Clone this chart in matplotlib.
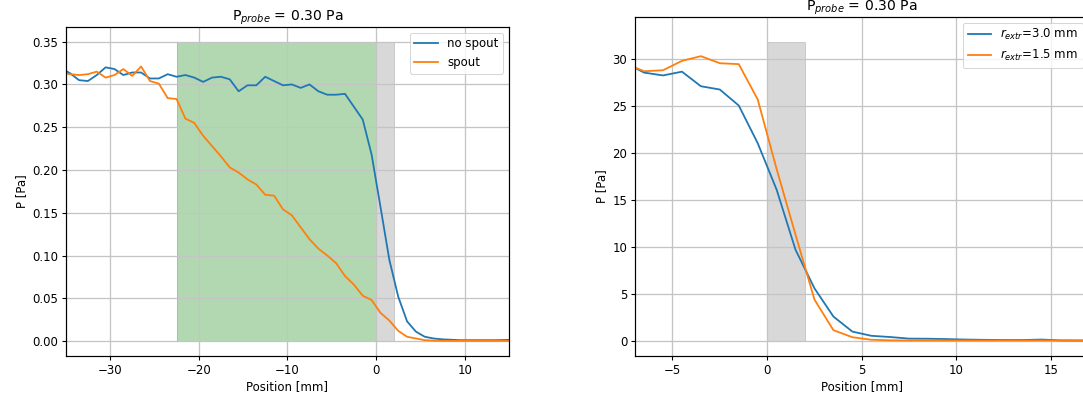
import numpy as np
import matplotlib
matplotlib.use('Agg')
import matplotlib.pyplot as plt

##### Datos
# Panel izquierdo: P_probe = 0.30 Pa, con y sin spout
pos_izq = [-35.5, -34.5, -33.5, -32.5, -31.5, -30.5, -29.5, -28.5, -27.5, -26.5,
           -25.5, -24.5, -23.5, -22.5, -21.5, -20.5, -19.5, -18.5, -17.5, -16.5,
           -15.5, -14.5, -13.5, -12.5, -11.5, -10.5, -9.5, -8.5, -7.5, -6.5,
           -5.5, -4.5, -3.5, -2.5, -1.5, -0.5, 0.5, 1.5, 2.5, 3.5,
           4.5, 5.5, 6.5, 7.5, 8.5, 9.5, 10.5, 11.5, 12.5, 13.5,
           14.5, 15.5]
p_no_spout = [0.319, 0.313, 0.305, 0.304, 0.311, 0.320, 0.318, 0.311, 0.314, 0.314,
              0.307, 0.307, 0.312, 0.309, 0.311, 0.308, 0.303, 0.308, 0.309, 0.306,
              0.292, 0.299, 0.299, 0.309, 0.304, 0.299, 0.300, 0.296, 0.300, 0.292,
              0.288, 0.288, 0.289, 0.274, 0.259, 0.218, 0.157, 0.095, 0.052, 0.023,
              0.011, 0.005, 0.003, 0.002, 0.0015, 0.001, 0.001, 0.001, 0.001, 0.001,
              0.0012, 0.0015]
p_spout = [0.314, 0.312, 0.311, 0.312, 0.315, 0.308, 0.311, 0.318, 0.310, 0.321,
           0.304, 0.301, 0.284, 0.283, 0.260, 0.255, 0.240, 0.228, 0.216, 0.203,
           0.197, 0.189, 0.183, 0.171, 0.170, 0.154, 0.147, 0.133, 0.119, 0.108,
           0.100, 0.091, 0.076, 0.066, 0.053, 0.048, 0.033, 0.024, 0.012, 0.005,
           0.003, 0.001, 0.0005, 0.0003, 0.0002, 0.0002, 0.0002, 0.0002, 0.0002, 0.0002,
           0.0002, 0.0002]

# Panel derecho: radios de extraccion
pos_der = [-7.5, -6.5, -5.5, -4.5, -3.5, -2.5, -1.5, -0.5, 0.5, 1.5,
           2.5, 3.5, 4.5, 5.5, 6.5, 7.5, 8.5, 9.5, 10.5, 11.5,
           12.5, 13.5, 14.5, 15.5, 16.5, 17.5]
p_r30 = [29.6, 28.55, 28.25, 28.65, 27.1, 26.75, 25.05, 21.05, 16.1, 9.7,
         5.6, 2.6, 1.0, 0.55, 0.42, 0.25, 0.24, 0.2, 0.15, 0.12,
         0.1, 0.1, 0.15, 0.06, 0.05, 0.05]
p_r15 = [29.5, 28.7, 28.8, 29.8, 30.3, 29.55, 29.45, 25.7, 18.3, 11.3,
         4.4, 1.15, 0.4, 0.13, 0.07, 0.05, 0.05, 0.05, 0.05, 0.05,
         0.05, 0.05, 0.05, 0.05, 0.05, 0.05]

titulo = 'P$_{probe}$ = 0.30 Pa'

plt.rcParams['font.size'] = 11.7
plt.rcParams['lines.linewidth'] = 1.8

fig = plt.figure(figsize=(1083/72, 403/72), dpi=72)
ax1 = fig.add_axes([0.0607, 0.1166, 0.4093, 0.8171])
ax2 = fig.add_axes([0.5860, 0.1166, 0.4195, 0.8420])

def estilo(ax):
    ax.grid(True, color='#c4c4c4', linewidth=1.3)
    for s in ax.spines.values():
        s.set_linewidth(1.2)
    ax.tick_params(width=1.1, length=4)

# Izquierda
ax1.fill_between([-22.5, 0], 0, 0.35, color='g', alpha=0.3)
ax1.fill_between([0, 2], 0, 0.35, color='gray', alpha=0.3)
ax1.plot(pos_izq, p_no_spout, label='no spout')
ax1.plot(pos_izq, p_spout, label='spout')
ax1.set_xlim(-35, 15)
ax1.set_xlabel('Position [mm]')
ax1.set_ylabel('P [Pa]')
ax1.set_title(titulo)
ax1.legend(loc='upper right')
estilo(ax1)

# Derecha
ax2.fill_between([0, 2], 0, 31.8, color='gray', alpha=0.3)
ax2.plot(pos_der, p_r30, label='$r_{extr}$=3.0 mm')
ax2.plot(pos_der, p_r15, label='$r_{extr}$=1.5 mm')
ax2.set_xlim(-7, 17)
ax2.set_ylim(-1.6, 34.5)
ax2.set_xlabel('Position [mm]')
ax2.set_ylabel('P [Pa]')
ax2.set_title(titulo)
ax2.legend(loc='upper right')
estilo(ax2)

fig.savefig('out.png', dpi=72)
